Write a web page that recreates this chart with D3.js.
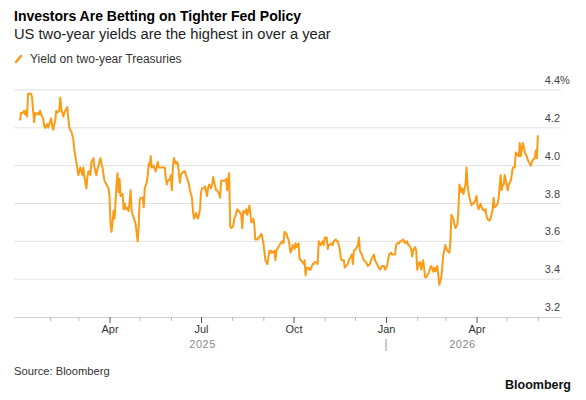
<!DOCTYPE html>
<html>
<head>
<meta charset="utf-8">
<script src="https://cdn.jsdelivr.net/npm/d3@7"></script>
<style>
  body { margin: 0; background: #fff; }
  text { font-family: "Liberation Sans", Arial, sans-serif; }
</style>
</head>
<body>
<div id="chart"></div>
<script>
// one line per month
var dates = [
  "2025-01-02","2025-01-03","2025-01-05","2025-01-06","2025-01-07","2025-01-08","2025-01-09","2025-01-10","2025-01-13","2025-01-14","2025-01-15","2025-01-16","2025-01-17","2025-01-18","2025-01-20","2025-01-21","2025-01-22","2025-01-23","2025-01-25","2025-01-26","2025-01-27","2025-01-29","2025-01-30","2025-01-31",
  "2025-02-02","2025-02-03","2025-02-04","2025-02-06","2025-02-07","2025-02-08","2025-02-10","2025-02-11","2025-02-12","2025-02-14","2025-02-15","2025-02-16","2025-02-18","2025-02-19","2025-02-20","2025-02-22","2025-02-24","2025-02-25","2025-02-26","2025-02-28",
  "2025-03-01","2025-03-02","2025-03-03","2025-03-05","2025-03-06","2025-03-07","2025-03-09","2025-03-10","2025-03-11","2025-03-13","2025-03-14","2025-03-16","2025-03-17","2025-03-19","2025-03-20","2025-03-21","2025-03-23","2025-03-24","2025-03-25","2025-03-27","2025-03-29","2025-03-31",
  "2025-04-01","2025-04-02","2025-04-03","2025-04-04","2025-04-05","2025-04-06","2025-04-08","2025-04-09","2025-04-10","2025-04-11","2025-04-12","2025-04-14","2025-04-15","2025-04-16","2025-04-17","2025-04-18","2025-04-20","2025-04-21","2025-04-22","2025-04-23","2025-04-24","2025-04-26","2025-04-27","2025-04-29","2025-04-30",
  "2025-05-01","2025-05-02","2025-05-04","2025-05-05","2025-05-06","2025-05-08","2025-05-09","2025-05-10","2025-05-11","2025-05-12","2025-05-13","2025-05-15","2025-05-16","2025-05-17","2025-05-19","2025-05-20","2025-05-21","2025-05-23","2025-05-24","2025-05-26","2025-05-27","2025-05-28","2025-05-29","2025-05-31",
  "2025-06-01","2025-06-02","2025-06-03","2025-06-04","2025-06-06","2025-06-07","2025-06-08","2025-06-10","2025-06-11","2025-06-12","2025-06-14","2025-06-15","2025-06-16","2025-06-18","2025-06-19","2025-06-20","2025-06-22","2025-06-23","2025-06-24","2025-06-26","2025-06-27","2025-06-28","2025-06-30",
  "2025-07-01","2025-07-02","2025-07-04","2025-07-05","2025-07-07","2025-07-08","2025-07-09","2025-07-11","2025-07-12","2025-07-13","2025-07-15","2025-07-16","2025-07-17","2025-07-19","2025-07-20","2025-07-21","2025-07-23","2025-07-25","2025-07-26","2025-07-27","2025-07-28","2025-07-29","2025-07-30","2025-07-31",
  "2025-08-02","2025-08-03","2025-08-04","2025-08-06","2025-08-07","2025-08-08","2025-08-10","2025-08-11","2025-08-12","2025-08-14","2025-08-15","2025-08-16","2025-08-18","2025-08-19","2025-08-20","2025-08-22","2025-08-23","2025-08-24","2025-08-26","2025-08-27","2025-08-28","2025-08-30","2025-08-31",
  "2025-09-01","2025-09-03","2025-09-04","2025-09-05","2025-09-07","2025-09-08","2025-09-09","2025-09-10","2025-09-12","2025-09-13","2025-09-14","2025-09-16","2025-09-17","2025-09-18","2025-09-20","2025-09-21","2025-09-22","2025-09-24","2025-09-25","2025-09-26","2025-09-28","2025-09-29","2025-09-30",
  "2025-10-02","2025-10-03","2025-10-04","2025-10-06","2025-10-07","2025-10-08","2025-10-10","2025-10-11","2025-10-12","2025-10-13","2025-10-14","2025-10-16","2025-10-17","2025-10-18","2025-10-20","2025-10-21","2025-10-22","2025-10-24","2025-10-25","2025-10-26","2025-10-27","2025-10-28","2025-10-30","2025-10-31",
  "2025-11-01","2025-11-03","2025-11-04","2025-11-05","2025-11-06","2025-11-08","2025-11-09","2025-11-10","2025-11-12","2025-11-13","2025-11-14","2025-11-16","2025-11-17","2025-11-18","2025-11-20","2025-11-21","2025-11-22","2025-11-24","2025-11-25","2025-11-26","2025-11-28","2025-11-29","2025-11-30",
  "2025-12-02","2025-12-03","2025-12-04","2025-12-05","2025-12-06","2025-12-08","2025-12-09","2025-12-10","2025-12-12","2025-12-13","2025-12-14","2025-12-16","2025-12-17","2025-12-18","2025-12-20","2025-12-21","2025-12-22","2025-12-24","2025-12-25","2025-12-26","2025-12-28","2025-12-29","2025-12-30","2025-12-31",
  "2026-01-02","2026-01-03","2026-01-04","2026-01-06","2026-01-07","2026-01-08","2026-01-10","2026-01-11","2026-01-12","2026-01-14","2026-01-15","2026-01-16","2026-01-18","2026-01-19","2026-01-20","2026-01-22","2026-01-23","2026-01-24","2026-01-26","2026-01-27","2026-01-28","2026-01-30","2026-01-31",
  "2026-02-01","2026-02-03","2026-02-04","2026-02-05","2026-02-07","2026-02-08","2026-02-09","2026-02-10","2026-02-11","2026-02-13","2026-02-14","2026-02-15","2026-02-17","2026-02-18","2026-02-19","2026-02-21","2026-02-22","2026-02-23","2026-02-25","2026-02-26","2026-02-27",
  "2026-03-01","2026-03-02","2026-03-03","2026-03-05","2026-03-06","2026-03-07","2026-03-09","2026-03-10","2026-03-11","2026-03-13","2026-03-14","2026-03-15","2026-03-17","2026-03-18","2026-03-19","2026-03-21","2026-03-22","2026-03-23","2026-03-24","2026-03-25","2026-03-27","2026-03-28","2026-03-29","2026-03-31",
  "2026-04-01","2026-04-02","2026-04-03","2026-04-05","2026-04-06","2026-04-07","2026-04-09","2026-04-10","2026-04-11","2026-04-13","2026-04-14","2026-04-15","2026-04-17","2026-04-18","2026-04-19","2026-04-21","2026-04-22","2026-04-23","2026-04-25","2026-04-26","2026-04-27","2026-04-28","2026-04-29",
  "2026-05-01","2026-05-02","2026-05-03","2026-05-05","2026-05-06","2026-05-07","2026-05-09","2026-05-10","2026-05-11","2026-05-13","2026-05-14","2026-05-15","2026-05-17","2026-05-18","2026-05-19","2026-05-21","2026-05-22","2026-05-23","2026-05-25","2026-05-26","2026-05-27","2026-05-29","2026-05-30","2026-05-31",
  "2026-06-01"
];

var yields = [
  4.24,4.28,4.28,4.29,4.27,4.29,4.26,4.38,4.38,4.36,4.29,4.23,4.28,4.27,4.28,4.27,4.29,4.27,4.25,4.21,4.20,4.22,4.20,4.22,
  4.25,4.21,4.19,4.24,4.29,4.28,4.29,4.36,4.30,4.26,4.28,4.29,4.31,4.25,4.20,4.18,4.14,4.08,4.05,3.99,
  3.95,3.97,3.99,3.95,3.99,3.94,3.88,3.94,3.97,3.95,4.02,4.04,3.99,3.95,3.98,4.00,4.04,4.01,3.99,3.92,3.90,3.88,
  3.84,3.69,3.65,3.70,3.76,3.72,3.90,3.96,3.86,3.93,3.84,3.85,3.77,3.80,3.77,3.78,3.76,3.81,3.87,3.76,3.74,3.71,3.69,3.60,3.68,
  3.82,3.83,3.83,3.78,3.88,3.91,3.95,4.01,4.00,4.05,3.99,4.00,3.98,3.97,4.02,3.99,3.99,3.99,3.99,3.99,3.93,3.90,3.92,3.93,
  3.95,3.87,3.99,4.04,4.01,4.02,4.01,3.91,3.95,3.96,3.97,3.97,3.95,3.92,3.90,3.87,3.83,3.76,3.72,3.75,3.73,3.72,3.77,
  3.86,3.88,3.88,3.89,3.84,3.88,3.90,3.88,3.90,3.94,3.89,3.87,3.87,3.85,3.83,3.92,3.92,3.92,3.93,3.87,3.93,3.96,3.68,3.67,
  3.68,3.72,3.73,3.77,3.76,3.76,3.74,3.67,3.76,3.75,3.77,3.74,3.79,3.75,3.70,3.72,3.69,3.61,3.61,3.62,3.62,3.64,3.62,
  3.59,3.50,3.49,3.48,3.55,3.54,3.55,3.54,3.55,3.50,3.55,3.57,3.58,3.59,3.60,3.59,3.65,3.64,3.62,3.61,3.54,3.55,3.58,
  3.56,3.59,3.57,3.59,3.51,3.50,3.49,3.48,3.50,3.42,3.46,3.46,3.45,3.45,3.48,3.48,3.49,3.49,3.48,3.60,3.59,3.58,3.60,3.58,
  3.62,3.62,3.56,3.58,3.58,3.59,3.58,3.60,3.61,3.60,3.60,3.56,3.51,3.50,3.50,3.46,3.47,3.48,3.50,3.51,3.53,3.48,3.55,
  3.56,3.57,3.58,3.62,3.55,3.53,3.51,3.50,3.49,3.48,3.47,3.48,3.50,3.51,3.53,3.50,3.49,3.47,3.46,3.45,3.47,3.47,3.47,3.45,
  3.47,3.50,3.53,3.54,3.53,3.53,3.53,3.58,3.59,3.59,3.60,3.60,3.61,3.60,3.59,3.60,3.58,3.58,3.56,3.52,3.55,3.57,3.55,
  3.45,3.49,3.49,3.45,3.50,3.45,3.41,3.41,3.42,3.44,3.46,3.47,3.44,3.46,3.44,3.47,3.42,3.37,3.41,3.47,3.53,
  3.58,3.56,3.55,3.54,3.60,3.74,3.72,3.69,3.67,3.69,3.77,3.90,3.86,3.88,3.85,3.90,3.99,3.90,3.86,3.83,3.79,3.80,3.80,3.82,
  3.84,3.79,3.77,3.80,3.78,3.77,3.76,3.77,3.73,3.71,3.71,3.72,3.77,3.83,3.78,3.79,3.80,3.83,3.95,3.87,3.90,3.90,3.95,
  3.90,3.87,3.90,3.92,3.95,3.99,3.99,4.07,4.06,4.05,4.12,4.05,4.12,4.10,4.07,4.05,4.03,4.02,4.00,4.02,4.03,4.04,4.08,4.04,
  4.16
];

var yTicks = [3.2, 3.4, 3.6, 3.8, 4.0, 4.2, 4.4];
var yearLabels = ["2025", "2026"];

var width = 586;
var height = 400;

var svg = d3.select("#chart")
  .append("svg")
  .attr("width", width)
  .attr("height", height);

var parse = d3.utcParse("%Y-%m-%d");
var data = dates.map(function(d, i) {
  return { date: parse(d), value: yields[i] };
});

var x = d3.scaleUtc()
  .domain([parse("2024-12-27"), parse("2026-06-24")])
  .range([14, 561]);

var y = d3.scaleLinear()
  .domain([3.2, 4.4])
  .range([317, 90]);

// Titles
svg.append("text")
  .attr("x", 14).attr("y", 21)
  .style("font-size", "14px").style("font-weight", "bold").attr("fill", "#000")
  .text("Investors Are Betting on Tighter Fed Policy");

svg.append("text")
  .attr("x", 14).attr("y", 39)
  .style("font-size", "14.7px").attr("fill", "#222")
  .text("US two-year yields are the highest in over a year");

// Legend
svg.append("line")
  .attr("x1", 16).attr("y1", 62).attr("x2", 21).attr("y2", 56)
  .attr("stroke", "#fb9b16").attr("stroke-width", 2.5).attr("stroke-linecap", "round");

svg.append("text")
  .attr("x", 30).attr("y", 63)
  .style("font-size", "12px").attr("fill", "#333")
  .text("Yield on two-year Treasuries");

// Gridlines
svg.append("g")
  .selectAll("line")
  .data(yTicks.slice(1))
  .join("line")
  .attr("x1", 14).attr("x2", 561)
  .attr("y1", function(d) { return y(d); })
  .attr("y2", function(d) { return y(d); })
  .attr("stroke", "#e2e2e2")
  .attr("stroke-width", 1);

// Y labels sit above their gridline, right side
svg.append("g")
  .selectAll("text")
  .data(yTicks)
  .join("text")
  .attr("x", 560)
  .attr("y", function(d) { return y(d) - 6; })
  .attr("text-anchor", "end")
  .style("font-size", "11px")
  .attr("fill", "#444")
  .text(function(d) { return d3.format(".1f")(d); });

svg.append("text")
  .attr("x", 560)
  .attr("y", y(yTicks[yTicks.length - 1]) - 6)
  .style("font-size", "11px")
  .attr("fill", "#444")
  .text("%");

// X axis
var quarterMonths = [0, 3, 6, 9];
var monthTicks = x.ticks(d3.utcMonth.every(1)).filter(function(d) {
  return d > parse("2025-01-01");
});

var xAxis = svg.append("g")
  .attr("transform", "translate(0,317)")
  .call(d3.axisBottom(x)
    .tickValues(monthTicks)
    .tickSize(4)
    .tickSizeOuter(0)
    .tickFormat(function(d) {
      return quarterMonths.indexOf(d.getUTCMonth()) >= 0 ? d3.utcFormat("%b")(d) : "";
    }));

xAxis.select(".domain").attr("stroke", "#d0d0d0");
xAxis.selectAll(".tick line")
  .attr("stroke", function(d) { return quarterMonths.indexOf(d.getUTCMonth()) >= 0 ? "#555" : "#bbb"; })
  .attr("y2", function(d) { return quarterMonths.indexOf(d.getUTCMonth()) >= 0 ? 6 : 4; });
xAxis.selectAll(".tick text")
  .attr("y", 16).attr("dy", null)
  .style("font-size", "11px")
  .style("font-family", "'Liberation Sans', Arial, sans-serif")
  .attr("fill", "#333");

// Year labels centred on each year's span of data
svg.append("g")
  .selectAll("text")
  .data(yearLabels)
  .join("text")
  .attr("x", function(yr) {
    var ext = d3.extent(data.filter(function(d) { return d.date.getUTCFullYear() == +yr; }), function(d) { return d.date; });
    return (x(ext[0]) + x(ext[1])) / 2;
  })
  .attr("y", 348)
  .attr("text-anchor", "middle")
  .style("font-size", "11px")
  .style("letter-spacing", "0.5px")
  .attr("fill", "#8a8a8a")
  .text(function(d) { return d; });

svg.append("line")
  .attr("x1", x(parse("2026-01-01"))).attr("x2", x(parse("2026-01-01")))
  .attr("y1", 339).attr("y2", 351)
  .attr("stroke", "#999").attr("stroke-width", 1);

// Line
svg.append("path")
  .datum(data)
  .attr("fill", "none")
  .attr("stroke", "#fb9b16")
  .attr("stroke-width", 2)
  .attr("stroke-linejoin", "round")
  .attr("d", d3.line()
    .x(function(d) { return x(d.date); })
    .y(function(d) { return y(d.value); })
  );

// Footer
svg.append("text")
  .attr("x", 14).attr("y", 375)
  .style("font-size", "11.2px").attr("fill", "#333")
  .text("Source: Bloomberg");

svg.append("text")
  .attr("x", 571).attr("y", 389)
  .attr("text-anchor", "end")
  .style("font-size", "12.5px").style("font-weight", "bold").attr("fill", "#111")
  .text("Bloomberg");
</script>
</body>
</html>
